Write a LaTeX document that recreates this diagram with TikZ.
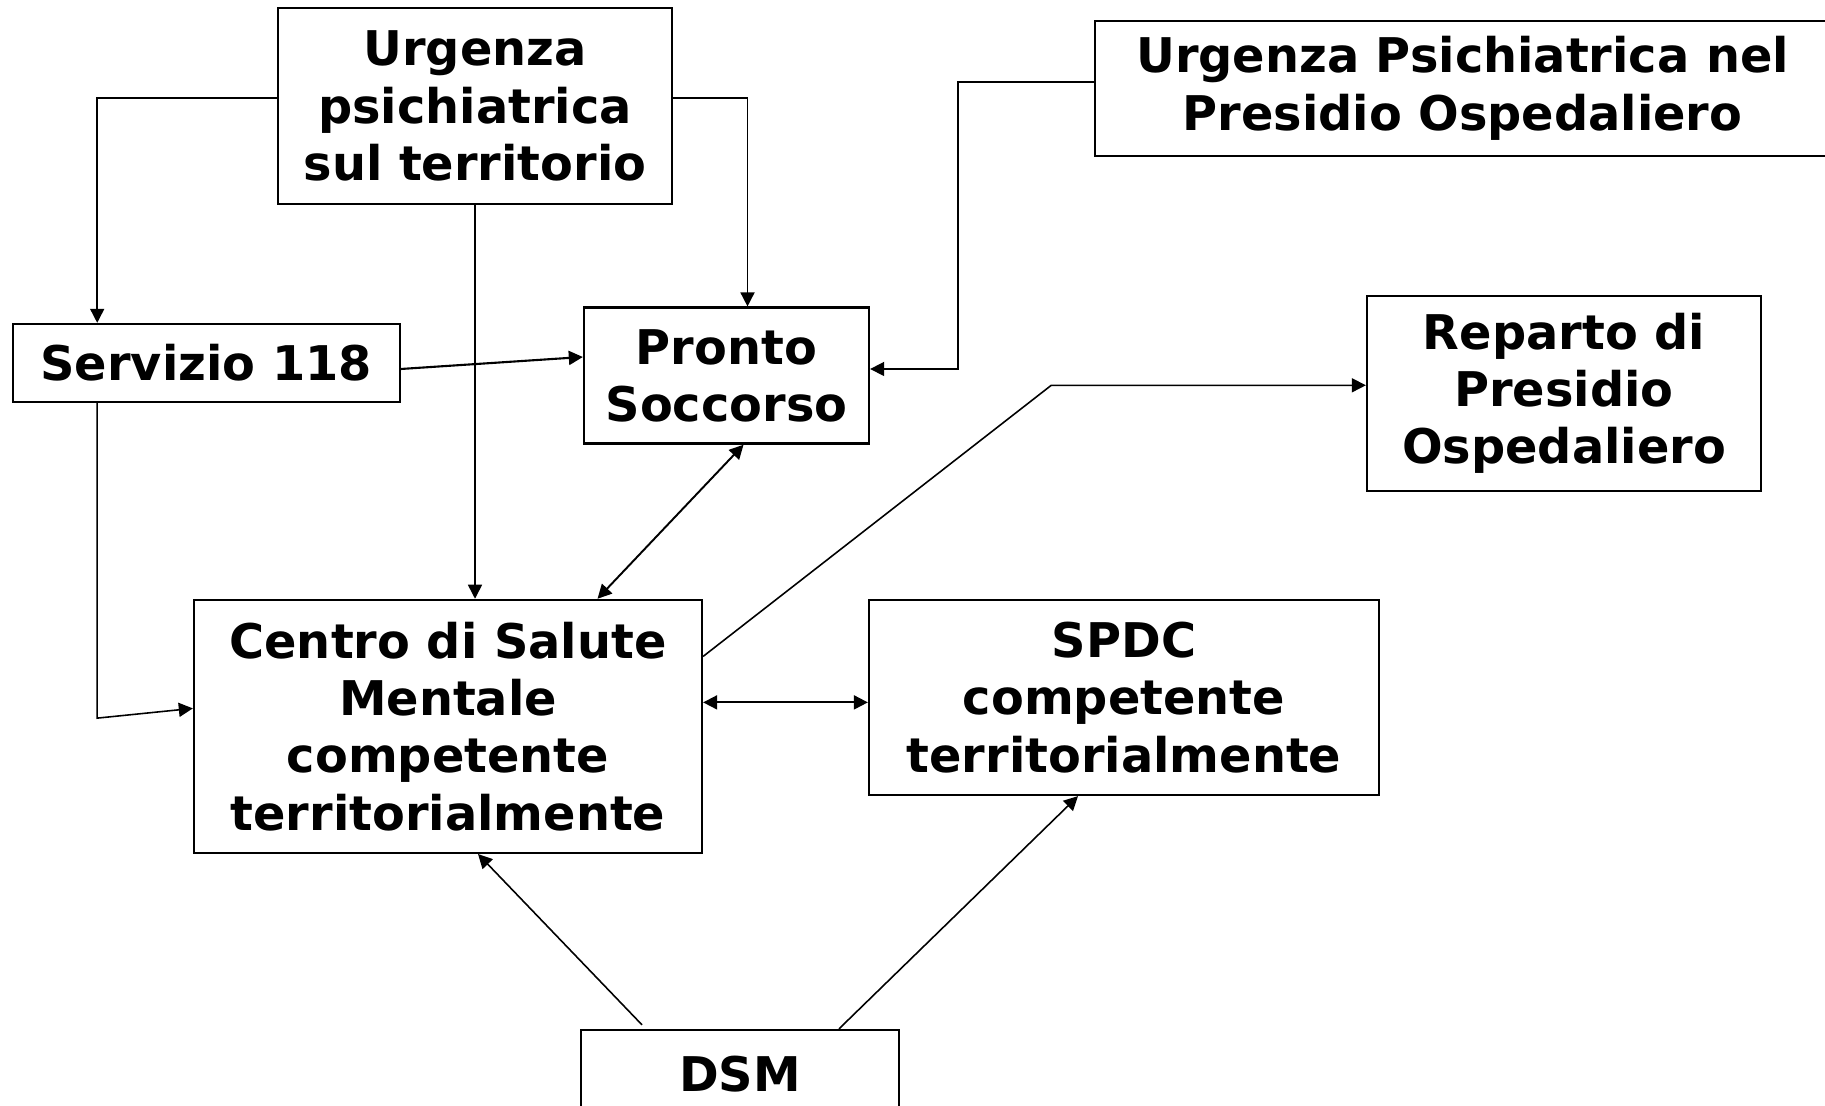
\documentclass[tikz,border=0pt]{standalone}
\usepackage{fontspec}
\setmainfont{DejaVu Sans}
\usepackage{tikz}
\usetikzlibrary{arrows.meta,positioning,calc}

\begin{document}
\begin{tikzpicture}[
  box/.style={draw=black, line width=0.65pt, align=center, inner sep=0pt,
    font=\bfseries\fontsize{13.6pt}{16.3pt}\selectfont},
  arr/.style={line width=0.45pt, -{Triangle[length=4pt,width=4pt]}},
  dblarr/.style={line width=0.55pt, {Triangle[length=4pt,width=4pt]}-{Triangle[length=4pt,width=4pt]}},
]
% Page frame
\clip (0,0) rectangle (18.25,11.06);
\fill[white] (0,0) rectangle (18.25,11.06);

% ─── Boxes ───
% Top row
\node[box, minimum width=3.94cm, minimum height=1.96cm] (urg) at (4.75, 10.00) {Urgenza\\psichiatrica\\sul territorio};
\node[box, minimum width=7.35cm, minimum height=1.35cm] (urgpo) at (14.625, 10.178) {Urgenza Psichiatrica nel\\Presidio Ospedaliero};

% Middle row
\node[box, minimum width=3.87cm, minimum height=0.78cm] (s118) at (2.062, 7.43) {Servizio 118};
\node[box, minimum width=2.85cm, minimum height=1.36cm] (ps) at (7.265, 7.304) {Pronto\\Soccorso};
\node[box, minimum width=3.94cm, minimum height=1.95cm] (rep) at (15.64, 7.127) {Reparto di\\Presidio\\Ospedaliero};

% Bottom row
\node[box, minimum width=5.08cm, minimum height=2.53cm] (csm) at (4.48, 3.796) {Centro di Salute\\Mentale\\competente\\territorialmente};
\node[box, minimum width=5.10cm, minimum height=1.95cm] (spdc) at (11.24, 4.085) {SPDC\\competente\\territorialmente};
\node[box, minimum width=3.18cm, minimum height=0.88cm] (dsm) at (7.40, 0.32) {DSM};

% ─── Connectors ───
\draw[arr] ([yshift=0.08cm]urg.west) -| ([xshift=-1.09cm]s118.north);
\draw[arr] ([yshift=0.08cm]urg.east) -| ([xshift=0.21cm]ps.north);
\draw[arr] (urg.south) -- (urg.south |- csm.north);
\draw[arr, line width=0.6pt] ([yshift=-0.06cm]s118.east) -- ([yshift=0.186cm]ps.west);
\draw[arr] ([xshift=-1.09cm]s118.south) -- ++(0,-3.15) -- ([yshift=0.18cm]csm.west);
\draw[arr] ([yshift=0.06cm]urgpo.west) -- ++(-1.36,0) |- ([yshift=0.066cm]ps.east);
\draw[dblarr] ([xshift=0.17cm]ps.south) -- ([xshift=1.495cm]csm.north);
\draw[arr] ([yshift=0.70cm]csm.east) -- ++(3.48,2.71) -- ([yshift=0.08cm]rep.west);
\draw[dblarr] ([yshift=0.24cm]csm.east) -- ([yshift=0.24cm]csm.east -| spdc.west);
\draw[arr] ([xshift=-0.98cm,yshift=0.04cm]dsm.north) -- ([xshift=0.30cm]csm.south);
\draw[arr] ([xshift=0.99cm]dsm.north) -- ([xshift=-0.46cm]spdc.south);

\end{tikzpicture}
\end{document}
